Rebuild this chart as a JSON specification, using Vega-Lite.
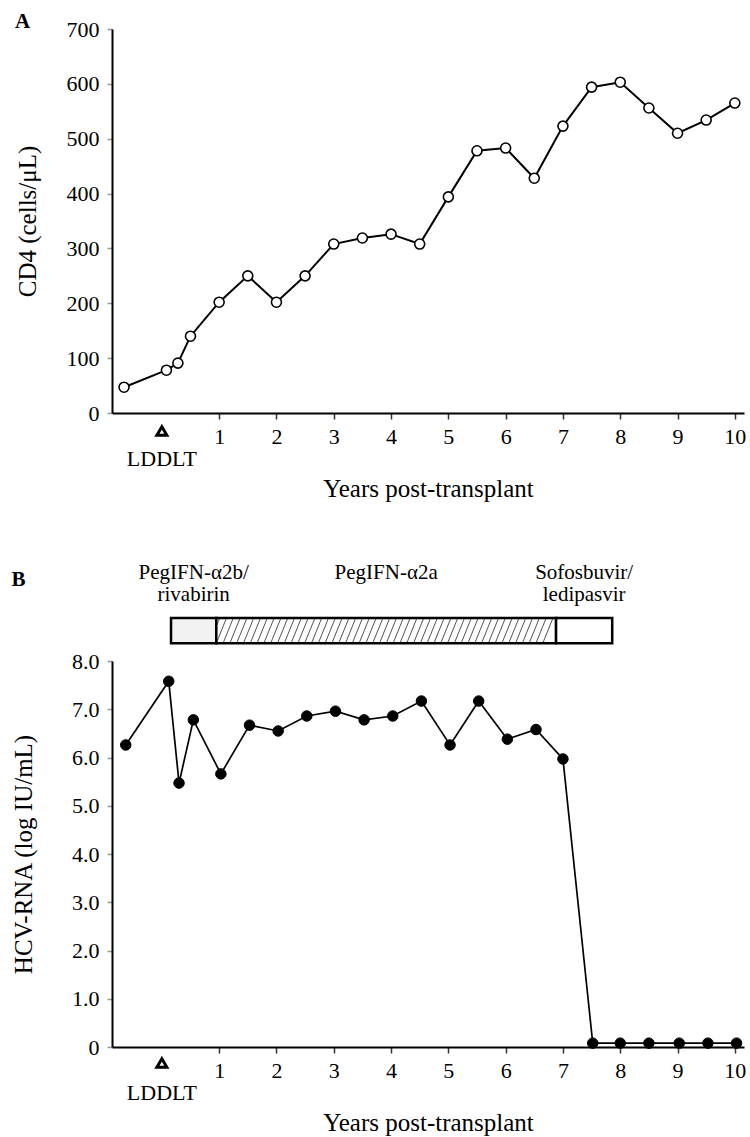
{
  "$schema": "https://vega.github.io/schema/vega-lite/v6.json",
  "background": "white",
  "padding": {"left": 11, "top": 11, "right": 5, "bottom": 5},
  "spacing": 61,
  "config": {
    "font": "Liberation Serif",
    "view": {"stroke": null},
    "axis": {
      "grid": false,
      "domainColor": "#000",
      "domainWidth": 2,
      "labelFont": "Liberation Serif",
      "labelFontSize": 22,
      "labelColor": "#000",
      "titleFont": "Liberation Serif",
      "titleFontSize": 25,
      "titleFontWeight": "normal",
      "titleColor": "#000"
    },
    "axisY": {"tickColor": "#999", "tickSize": 5, "tickWidth": 1.5, "labelPadding": 8, "titlePadding": 26},
    "axisX": {"tickColor": "#333", "tickSize": 6, "tickWidth": 1.5, "labelPadding": 7, "titlePadding": 29, "format": "d"},
    "title": {"font": "Liberation Serif", "fontSize": 21, "fontWeight": "bold", "anchor": "start", "frame": "bounds", "color": "#000", "offset": 0, "baseline": "alphabetic"}
  },
  "datasets": {
    "cd4": [
      {"year": -0.66, "cd4": 47}, {"year": 0.08, "cd4": 78}, {"year": 0.28, "cd4": 91}, {"year": 0.5, "cd4": 140},
      {"year": 1, "cd4": 202}, {"year": 1.5, "cd4": 250}, {"year": 2, "cd4": 202}, {"year": 2.5, "cd4": 250},
      {"year": 3, "cd4": 308}, {"year": 3.5, "cd4": 319}, {"year": 4, "cd4": 326}, {"year": 4.5, "cd4": 308},
      {"year": 5, "cd4": 394}, {"year": 5.5, "cd4": 478}, {"year": 6, "cd4": 483}, {"year": 6.5, "cd4": 428},
      {"year": 7, "cd4": 523}, {"year": 7.5, "cd4": 594}, {"year": 8, "cd4": 603}, {"year": 8.5, "cd4": 556},
      {"year": 9, "cd4": 510}, {"year": 9.5, "cd4": 534}, {"year": 10, "cd4": 565}
    ],
    "hcv": [
      {"year": -0.63, "hcv": 6.26}, {"year": 0.12, "hcv": 7.58}, {"year": 0.3, "hcv": 5.47}, {"year": 0.55, "hcv": 6.78},
      {"year": 1.03, "hcv": 5.66}, {"year": 1.53, "hcv": 6.67}, {"year": 2.03, "hcv": 6.55}, {"year": 2.53, "hcv": 6.86},
      {"year": 3.03, "hcv": 6.96}, {"year": 3.53, "hcv": 6.78}, {"year": 4.03, "hcv": 6.86}, {"year": 4.53, "hcv": 7.17},
      {"year": 5.03, "hcv": 6.26}, {"year": 5.53, "hcv": 7.17}, {"year": 6.03, "hcv": 6.38}, {"year": 6.53, "hcv": 6.58},
      {"year": 7.0, "hcv": 5.97}, {"year": 7.52, "hcv": 0.08}, {"year": 8.0, "hcv": 0.08}, {"year": 8.5, "hcv": 0.08},
      {"year": 9.03, "hcv": 0.08}, {"year": 9.53, "hcv": 0.08}, {"year": 10.03, "hcv": 0.08}
    ],
    "treat": [
      {"regimen": "PegIFN-α2b/\nrivabirin", "start": 0.16, "end": 0.95, "pattern": "dots"},
      {"regimen": "PegIFN-α2a", "start": 0.95, "end": 6.88, "pattern": "hatch"},
      {"regimen": "Sofosbuvir/\nledipasvir", "start": 6.88, "end": 7.86, "pattern": "none"}
    ],
    "event": [{"year": 0, "event": "LDDLT"}]
  },
  "vconcat": [
    {
      "width": 632,
      "height": 384,
      "title": {"text": "A", "dy": 18},
      "layer": [
        {
          "data": {"name": "cd4"},
          "mark": {"type": "line", "color": "#000", "strokeWidth": 2},
          "encoding": {
            "x": {"field": "year", "type": "quantitative", "scale": {"domain": [-0.87, 10.16], "nice": false, "zero": false},
                  "axis": {"values": [1, 2, 3, 4, 5, 6, 7, 8, 9, 10], "title": "Years post-transplant"}},
            "y": {"field": "cd4", "type": "quantitative", "scale": {"domain": [0, 700], "nice": false},
                  "axis": {"values": [0, 100, 200, 300, 400, 500, 600, 700], "title": "CD4 (cells/μL)"}}
          }
        },
        {
          "data": {"name": "cd4"},
          "mark": {"type": "point", "shape": "circle", "filled": true, "fill": "#fff", "stroke": "#000", "strokeWidth": 1.6, "size": 100, "opacity": 1},
          "encoding": {
            "x": {"field": "year", "type": "quantitative"},
            "y": {"field": "cd4", "type": "quantitative"}
          }
        },
        {
          "data": {"name": "event"},
          "mark": {"type": "point", "shape": "triangle-up", "filled": true, "fill": "#fff", "stroke": "#000", "strokeWidth": 3, "size": 100, "opacity": 1, "yOffset": 18},
          "encoding": {
            "x": {"field": "year", "type": "quantitative"},
            "y": {"datum": 0, "type": "quantitative"}
          }
        },
        {
          "data": {"name": "event"},
          "mark": {"type": "text", "fontSize": 22, "baseline": "middle", "align": "center", "dy": 46, "color": "#000"},
          "encoding": {
            "x": {"field": "year", "type": "quantitative"},
            "y": {"datum": 0, "type": "quantitative"},
            "text": {"field": "event"}
          }
        }
      ]
    },
    {
      "width": 632,
      "height": 386,
      "title": {"text": "B", "dy": 32},
      "layer": [
        {
          "data": {"name": "hcv"},
          "mark": {"type": "line", "color": "#000", "strokeWidth": 1.7},
          "encoding": {
            "x": {"field": "year", "type": "quantitative", "scale": {"domain": [-0.87, 10.16], "nice": false, "zero": false},
                  "axis": {"values": [1, 2, 3, 4, 5, 6, 7, 8, 9, 10], "title": "Years post-transplant"}},
            "y": {"field": "hcv", "type": "quantitative", "scale": {"domain": [0, 8], "nice": false},
                  "axis": {"values": [0, 1, 2, 3, 4, 5, 6, 7, 8], "labelExpr": "datum.value == 0 ? '0' : format(datum.value, '.1f')", "title": "HCV-RNA (log IU/mL)", "titlePadding": 35}}
          }
        },
        {
          "data": {"name": "hcv"},
          "mark": {"type": "point", "shape": "circle", "filled": true, "fill": "#000", "stroke": "#000", "strokeWidth": 1, "size": 110, "opacity": 1},
          "encoding": {
            "x": {"field": "year", "type": "quantitative"},
            "y": {"field": "hcv", "type": "quantitative"}
          }
        },
        {
          "data": {"name": "treat"},
          "transform": [{"filter": "datum.pattern == 'dots'"}],
          "mark": {"type": "rect", "fill": "#f2f2f2", "stroke": "#000", "strokeWidth": 2.5},
          "encoding": {
            "x": {"field": "start", "type": "quantitative"},
            "x2": {"field": "end"},
            "y": {"datum": 8.89, "type": "quantitative"},
            "y2": {"datum": 8.37}
          }
        },
        {
          "data": {"name": "treat"},
          "transform": [{"filter": "datum.pattern == 'hatch'"}],
          "mark": {"type": "rect", "stroke": "#000", "strokeWidth": 2.5,
            "fill": {"gradient": "linear", "x1": 0, "y1": 0, "x2": 1, "y2": 0.03, "stops": [
              {"offset": 0, "color": "#fff"},
              {"offset": 0.007, "color": "#fff"}, {"offset": 0.01, "color": "#555"}, {"offset": 0.013, "color": "#fff"},
              {"offset": 0.027, "color": "#fff"}, {"offset": 0.03, "color": "#555"}, {"offset": 0.033, "color": "#fff"},
              {"offset": 0.047, "color": "#fff"}, {"offset": 0.05, "color": "#555"}, {"offset": 0.053, "color": "#fff"},
              {"offset": 0.067, "color": "#fff"}, {"offset": 0.07, "color": "#555"}, {"offset": 0.073, "color": "#fff"},
              {"offset": 0.087, "color": "#fff"}, {"offset": 0.09, "color": "#555"}, {"offset": 0.093, "color": "#fff"},
              {"offset": 0.107, "color": "#fff"}, {"offset": 0.11, "color": "#555"}, {"offset": 0.113, "color": "#fff"},
              {"offset": 0.127, "color": "#fff"}, {"offset": 0.13, "color": "#555"}, {"offset": 0.133, "color": "#fff"},
              {"offset": 0.147, "color": "#fff"}, {"offset": 0.15, "color": "#555"}, {"offset": 0.153, "color": "#fff"},
              {"offset": 0.167, "color": "#fff"}, {"offset": 0.17, "color": "#555"}, {"offset": 0.173, "color": "#fff"},
              {"offset": 0.187, "color": "#fff"}, {"offset": 0.19, "color": "#555"}, {"offset": 0.193, "color": "#fff"},
              {"offset": 0.207, "color": "#fff"}, {"offset": 0.21, "color": "#555"}, {"offset": 0.213, "color": "#fff"},
              {"offset": 0.227, "color": "#fff"}, {"offset": 0.23, "color": "#555"}, {"offset": 0.233, "color": "#fff"},
              {"offset": 0.247, "color": "#fff"}, {"offset": 0.25, "color": "#555"}, {"offset": 0.253, "color": "#fff"},
              {"offset": 0.267, "color": "#fff"}, {"offset": 0.27, "color": "#555"}, {"offset": 0.273, "color": "#fff"},
              {"offset": 0.287, "color": "#fff"}, {"offset": 0.29, "color": "#555"}, {"offset": 0.293, "color": "#fff"},
              {"offset": 0.307, "color": "#fff"}, {"offset": 0.31, "color": "#555"}, {"offset": 0.313, "color": "#fff"},
              {"offset": 0.327, "color": "#fff"}, {"offset": 0.33, "color": "#555"}, {"offset": 0.333, "color": "#fff"},
              {"offset": 0.347, "color": "#fff"}, {"offset": 0.35, "color": "#555"}, {"offset": 0.353, "color": "#fff"},
              {"offset": 0.367, "color": "#fff"}, {"offset": 0.37, "color": "#555"}, {"offset": 0.373, "color": "#fff"},
              {"offset": 0.387, "color": "#fff"}, {"offset": 0.39, "color": "#555"}, {"offset": 0.393, "color": "#fff"},
              {"offset": 0.407, "color": "#fff"}, {"offset": 0.41, "color": "#555"}, {"offset": 0.413, "color": "#fff"},
              {"offset": 0.427, "color": "#fff"}, {"offset": 0.43, "color": "#555"}, {"offset": 0.433, "color": "#fff"},
              {"offset": 0.447, "color": "#fff"}, {"offset": 0.45, "color": "#555"}, {"offset": 0.453, "color": "#fff"},
              {"offset": 0.467, "color": "#fff"}, {"offset": 0.47, "color": "#555"}, {"offset": 0.473, "color": "#fff"},
              {"offset": 0.487, "color": "#fff"}, {"offset": 0.49, "color": "#555"}, {"offset": 0.493, "color": "#fff"},
              {"offset": 0.507, "color": "#fff"}, {"offset": 0.51, "color": "#555"}, {"offset": 0.513, "color": "#fff"},
              {"offset": 0.527, "color": "#fff"}, {"offset": 0.53, "color": "#555"}, {"offset": 0.533, "color": "#fff"},
              {"offset": 0.547, "color": "#fff"}, {"offset": 0.55, "color": "#555"}, {"offset": 0.553, "color": "#fff"},
              {"offset": 0.567, "color": "#fff"}, {"offset": 0.57, "color": "#555"}, {"offset": 0.573, "color": "#fff"},
              {"offset": 0.587, "color": "#fff"}, {"offset": 0.59, "color": "#555"}, {"offset": 0.593, "color": "#fff"},
              {"offset": 0.607, "color": "#fff"}, {"offset": 0.61, "color": "#555"}, {"offset": 0.613, "color": "#fff"},
              {"offset": 0.627, "color": "#fff"}, {"offset": 0.63, "color": "#555"}, {"offset": 0.633, "color": "#fff"},
              {"offset": 0.647, "color": "#fff"}, {"offset": 0.65, "color": "#555"}, {"offset": 0.653, "color": "#fff"},
              {"offset": 0.667, "color": "#fff"}, {"offset": 0.67, "color": "#555"}, {"offset": 0.673, "color": "#fff"},
              {"offset": 0.687, "color": "#fff"}, {"offset": 0.69, "color": "#555"}, {"offset": 0.693, "color": "#fff"},
              {"offset": 0.707, "color": "#fff"}, {"offset": 0.71, "color": "#555"}, {"offset": 0.713, "color": "#fff"},
              {"offset": 0.727, "color": "#fff"}, {"offset": 0.73, "color": "#555"}, {"offset": 0.733, "color": "#fff"},
              {"offset": 0.747, "color": "#fff"}, {"offset": 0.75, "color": "#555"}, {"offset": 0.753, "color": "#fff"},
              {"offset": 0.767, "color": "#fff"}, {"offset": 0.77, "color": "#555"}, {"offset": 0.773, "color": "#fff"},
              {"offset": 0.787, "color": "#fff"}, {"offset": 0.79, "color": "#555"}, {"offset": 0.793, "color": "#fff"},
              {"offset": 0.807, "color": "#fff"}, {"offset": 0.81, "color": "#555"}, {"offset": 0.813, "color": "#fff"},
              {"offset": 0.827, "color": "#fff"}, {"offset": 0.83, "color": "#555"}, {"offset": 0.833, "color": "#fff"},
              {"offset": 0.847, "color": "#fff"}, {"offset": 0.85, "color": "#555"}, {"offset": 0.853, "color": "#fff"},
              {"offset": 0.867, "color": "#fff"}, {"offset": 0.87, "color": "#555"}, {"offset": 0.873, "color": "#fff"},
              {"offset": 0.887, "color": "#fff"}, {"offset": 0.89, "color": "#555"}, {"offset": 0.893, "color": "#fff"},
              {"offset": 0.907, "color": "#fff"}, {"offset": 0.91, "color": "#555"}, {"offset": 0.913, "color": "#fff"},
              {"offset": 0.927, "color": "#fff"}, {"offset": 0.93, "color": "#555"}, {"offset": 0.933, "color": "#fff"},
              {"offset": 0.947, "color": "#fff"}, {"offset": 0.95, "color": "#555"}, {"offset": 0.953, "color": "#fff"},
              {"offset": 0.967, "color": "#fff"}, {"offset": 0.97, "color": "#555"}, {"offset": 0.973, "color": "#fff"},
              {"offset": 0.987, "color": "#fff"}, {"offset": 0.99, "color": "#555"}, {"offset": 0.993, "color": "#fff"},
              {"offset": 1, "color": "#fff"}
            ]}},
          "encoding": {
            "x": {"field": "start", "type": "quantitative"},
            "x2": {"field": "end"},
            "y": {"datum": 8.89, "type": "quantitative"},
            "y2": {"datum": 8.37}
          }
        },
        {
          "data": {"name": "treat"},
          "transform": [{"filter": "datum.pattern == 'none'"}],
          "mark": {"type": "rect", "fill": "#fff", "stroke": "#000", "strokeWidth": 2.5},
          "encoding": {
            "x": {"field": "start", "type": "quantitative"},
            "x2": {"field": "end"},
            "y": {"datum": 8.89, "type": "quantitative"},
            "y2": {"datum": 8.37}
          }
        },
        {
          "data": {"name": "treat"},
          "transform": [{"calculate": "(datum.start + datum.end) / 2", "as": "mid"}],
          "mark": {"type": "text", "fontSize": 21, "baseline": "middle", "align": "center", "lineBreak": "\n", "lineHeight": 22, "color": "#000"},
          "encoding": {
            "x": {"field": "mid", "type": "quantitative"},
            "y": {"datum": 9.82, "type": "quantitative"},
            "text": {"field": "regimen"}
          }
        },
        {
          "data": {"name": "event"},
          "mark": {"type": "point", "shape": "triangle-up", "filled": true, "fill": "#fff", "stroke": "#000", "strokeWidth": 3, "size": 100, "opacity": 1, "yOffset": 16},
          "encoding": {
            "x": {"field": "year", "type": "quantitative"},
            "y": {"datum": 0, "type": "quantitative"}
          }
        },
        {
          "data": {"name": "event"},
          "mark": {"type": "text", "fontSize": 22, "baseline": "middle", "align": "center", "dy": 46, "color": "#000"},
          "encoding": {
            "x": {"field": "year", "type": "quantitative"},
            "y": {"datum": 0, "type": "quantitative"},
            "text": {"field": "event"}
          }
        }
      ]
    }
  ]
}
